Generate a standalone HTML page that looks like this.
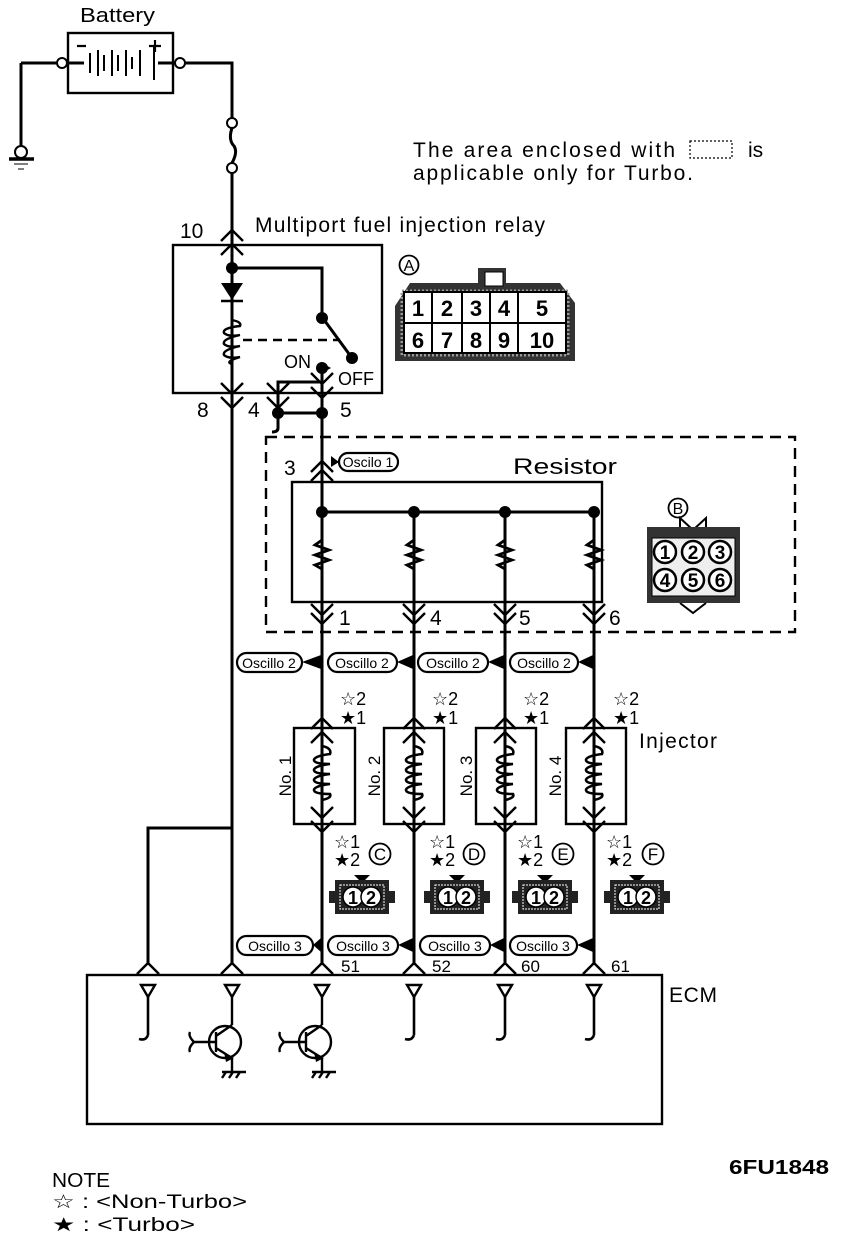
<!DOCTYPE html>
<html><head><meta charset="utf-8"><style>
html,body{margin:0;padding:0;background:#fff;}
svg{display:block;}
text{font-family:"Liberation Sans",sans-serif;fill:#000;}
</style></head><body>
<svg width="848" height="1240" viewBox="0 0 848 1240" xmlns="http://www.w3.org/2000/svg">
<defs>
<path id="up" d="M-11,11 L0,0 L11,11" fill="none" stroke="#000" stroke-width="2.4"/>
<path id="dn" d="M-11,-11 L0,0 L11,-11" fill="none" stroke="#000" stroke-width="2.4"/>
<g id="pin"><path d="M-7,0 L7,0 L0,12 Z" fill="none" stroke="#000" stroke-width="2.4"/><path d="M0,12 L0,50 M0,50 Q-2,56 -9,54" fill="none" stroke="#000" stroke-width="2.6"/></g>
<g id="res"><path d="M0,0 L0,28 L-7,33 L7,38 L-7,43 L7,48 L-7,53 L0,57 L0,90" fill="none" stroke="#000" stroke-width="2.8"/></g>
<g id="coil"><path d="M0,0 L0,20 Q10,22 8,28 Q-8,30 -8,34 Q-8,38 8,38 Q-8,40 -8,44 Q-8,48 8,48 Q-8,50 -8,54 Q-8,58 8,58 Q-8,60 -8,64 Q-8,68 8,68 Q10,72 0,74 L0,100" fill="none" stroke="#000" stroke-width="2.6"/></g>
<g id="c2">
<path d="M-8,-10 L8,-10 L0,-2 Z" fill="#000"/>
<rect x="-27" y="-5" width="54" height="34" fill="#222"/>
<rect x="-33" y="6" width="8" height="12" fill="#222"/><rect x="25" y="6" width="8" height="12" fill="#222"/>
<rect x="-22" y="0" width="44" height="24" fill="none" stroke="#fff" stroke-width="1" stroke-dasharray="2,1"/>
<circle cx="-9" cy="12" r="10" fill="#fff" stroke="#000" stroke-width="1.5"/><circle cx="9" cy="12" r="10" fill="#fff" stroke="#000" stroke-width="1.5"/>
<text x="-9" y="19" font-size="18" text-anchor="middle" font-weight="bold">1</text><text x="9" y="19" font-size="18" text-anchor="middle" font-weight="bold">2</text>
</g>
</defs>
<g fill="none" stroke="#000" stroke-width="3">
<rect x="68" y="33" width="105" height="60" stroke-width="2.4"/>
<path d="M67,63 L84,63 M158,63 L175,63 M21,63 L57,63 M21,63 L21,146 M185,63 L232,63 L232,118 M232,128 Q228,140 234,146 Q238,152 232,163 M232,173 L232,965"/>
<circle cx="62" cy="63" r="5" stroke-width="2"/><circle cx="180" cy="63" r="5" stroke-width="2"/>
<circle cx="232" cy="123" r="5" stroke-width="2"/><circle cx="232" cy="168" r="5" stroke-width="2"/>
<circle cx="21" cy="152" r="6" stroke-width="2"/>
<path d="M9,159 L34,159" stroke-width="3.5"/><path d="M14,164 L28,164 M18,169 L24,169" stroke-width="1"/>
<path d="M90,53 L90,73 M98,50 L98,76 M104,55 L104,71 M112,50 L112,76 M118,55 L118,71 M126,50 L126,76 M132,57 L132,69 M140,50 L140,76 M154,46 L154,80" stroke-width="2"/>
<path d="M77,46 L86,46 M149,46 L161,46 M155,40 L155,52" stroke-width="2.2"/>
<rect x="173" y="245" width="209" height="148" stroke-width="2.4"/>
<path d="M232,268 L322,268 L322,317 L352,358"/>
<path d="M243,340 L340,340" stroke-dasharray="9,6" stroke-width="2.4"/>
<path d="M322,368 L322,430 M322,382 L278,382 L278,428 M278,413 L322,413 M278,428 Q278,432 272,432"/>
<path d="M322,430 L322,965 M414,512 L414,965 M505,512 L505,965 M594,512 L594,965 M322,512 L594,512"/>
<path d="M148,965 L148,828 L232,828"/>
<rect x="266" y="437" width="529" height="195" stroke-dasharray="11,7" stroke-width="2.4"/>
<rect x="292" y="482" width="310" height="120" stroke-width="2.4"/>
<rect x="294" y="728" width="61" height="96" stroke-width="2.4"/>
<rect x="384" y="728" width="60" height="96" stroke-width="2.4"/>
<rect x="476" y="728" width="60" height="96" stroke-width="2.4"/>
<rect x="566" y="728" width="60" height="96" stroke-width="2.4"/>
<rect x="87" y="975" width="575" height="149" stroke-width="2.4"/>
</g>
<path d="M221,283 L243,283 L232,300 Z" fill="#000"/><path d="M221,301 L243,301" stroke="#000" stroke-width="2.5"/>
<g transform="translate(232,302)"><path d="M0,0 L0,18 Q10,20 8,24 Q-10,26 -8,31 Q-4,35 8,33 Q-10,37 -8,42 Q-4,46 8,44 Q-10,48 -8,53 Q-4,57 8,55 Q-8,60 0,62 L0,91" fill="none" stroke="#000" stroke-width="2.4"/></g>
<g fill="#000">
<circle cx="232" cy="268" r="6"/><circle cx="322" cy="318" r="6"/><circle cx="352" cy="358" r="6"/><circle cx="322" cy="368" r="6"/>
<path d="M322,363 L331,368 L322,373 Z"/>
<circle cx="278" cy="413" r="6"/><circle cx="322" cy="413" r="6"/>
<circle cx="322" cy="512" r="6"/><circle cx="414" cy="512" r="6"/><circle cx="505" cy="512" r="6"/><circle cx="594" cy="512" r="6"/>
</g>
<use href="#up" x="232" y="230"/><use href="#up" x="232" y="244"/>
<use href="#dn" x="232" y="394"/><use href="#dn" x="232" y="408"/>
<use href="#dn" x="278" y="394"/><use href="#dn" x="278" y="408"/>
<use href="#dn" x="322" y="384"/><use href="#dn" x="322" y="398"/>
<use href="#up" x="322" y="461"/><use href="#up" x="322" y="470"/>
<use href="#dn" x="322" y="615"/><use href="#dn" x="322" y="624"/>
<use href="#dn" x="414" y="615"/><use href="#dn" x="414" y="624"/>
<use href="#dn" x="505" y="615"/><use href="#dn" x="505" y="624"/>
<use href="#dn" x="594" y="615"/><use href="#dn" x="594" y="624"/>
<use href="#up" x="322" y="718"/><use href="#up" x="322" y="732"/>
<use href="#up" x="414" y="718"/><use href="#up" x="414" y="732"/>
<use href="#up" x="505" y="718"/><use href="#up" x="505" y="732"/>
<use href="#up" x="594" y="718"/><use href="#up" x="594" y="732"/>
<use href="#dn" x="322" y="818"/><use href="#dn" x="322" y="832"/>
<use href="#dn" x="414" y="818"/><use href="#dn" x="414" y="832"/>
<use href="#dn" x="505" y="818"/><use href="#dn" x="505" y="832"/>
<use href="#dn" x="594" y="818"/><use href="#dn" x="594" y="832"/>
<use href="#up" x="148" y="963"/><use href="#up" x="232" y="963"/><use href="#up" x="322" y="963"/>
<use href="#up" x="414" y="963"/><use href="#up" x="505" y="963"/><use href="#up" x="594" y="963"/>
<use href="#res" x="322" y="512"/><use href="#res" x="414" y="512"/><use href="#res" x="505" y="512"/><use href="#res" x="594" y="512"/>
<use href="#coil" x="322" y="726"/><use href="#coil" x="414" y="726"/><use href="#coil" x="505" y="726"/><use href="#coil" x="594" y="726"/>
<use href="#pin" x="148" y="985"/><use href="#pin" x="414" y="985"/><use href="#pin" x="505" y="985"/><use href="#pin" x="594" y="985"/>
<g fill="none" stroke="#000" stroke-width="2.4">
<path d="M225,985 L239,985 L232,997 Z M232,997 L232,1025 M232,1058 L232,1072 M222,1072 L246,1072 M226,1072 L222,1078 M233,1072 L229,1078 M240,1072 L236,1078"/>
<circle cx="225" cy="1042" r="16"/>
<path d="M194,1042 L216,1042 M216,1032 L216,1052 M216,1036 L232,1025 M216,1048 L232,1058 M194,1042 Q188,1036 190,1032 M194,1042 Q188,1048 190,1052"/>
<path d="M315,985 L329,985 L322,997 Z M322,997 L322,1025 M322,1058 L322,1072 M312,1072 L336,1072 M316,1072 L312,1078 M323,1072 L319,1078 M330,1072 L326,1078"/>
<circle cx="315" cy="1042" r="16"/>
<path d="M284,1042 L306,1042 M306,1032 L306,1052 M306,1036 L322,1025 M306,1048 L322,1058 M284,1042 Q278,1036 280,1032 M284,1042 Q278,1048 280,1052"/>
</g>
<path d="M224,1052 L234,1058 L226,1062 Z M314,1052 L324,1058 L316,1062 Z" fill="#000"/>
<g>
<path d="M395,306 L410,283 L478,283 L478,268 L506,268 L506,283 L560,283 L575,303 L575,361 L395,361 Z" fill="#333"/>
<rect x="485" y="272" width="18" height="14" fill="#fff" stroke="#000"/>
<rect x="402" y="291" width="166" height="64" fill="none" stroke="#999" stroke-width="3" stroke-dasharray="2,2"/>
<rect x="404" y="292" width="162" height="61" fill="#fff" stroke="#000" stroke-width="2"/>
<path d="M404,323 L566,323 M432,292 L432,353 M462,292 L462,353 M490,292 L490,353 M518,292 L518,353" stroke="#000" stroke-width="2"/>
<g font-size="22" font-weight="bold" text-anchor="middle">
<text x="418" y="316">1</text><text x="447" y="316">2</text><text x="476" y="316">3</text><text x="504" y="316">4</text><text x="542" y="316">5</text>
<text x="418" y="348">6</text><text x="447" y="348">7</text><text x="476" y="348">8</text><text x="504" y="348">9</text><text x="542" y="348">10</text>
</g>
<circle cx="409" cy="265" r="9.5" fill="none" stroke="#000" stroke-width="1.8"/><text x="409" y="271" font-size="16" text-anchor="middle">A</text>
</g>
<g>
<path d="M680,518 L693,530 L706,518 L706,528 L680,528 Z" fill="none" stroke="#000" stroke-width="2"/>
<path d="M680,603 L693,613 L706,603" fill="none" stroke="#000" stroke-width="2"/>
<rect x="647" y="527" width="93" height="76" fill="#333"/>
<rect x="652" y="538" width="83" height="58" fill="#eee" stroke="#000" stroke-width="1"/>
<g fill="#fff" stroke="#000" stroke-width="2.5">
<circle cx="665" cy="552" r="11"/><circle cx="693" cy="552" r="11"/><circle cx="720" cy="552" r="11"/>
<circle cx="665" cy="580" r="11"/><circle cx="693" cy="580" r="11"/><circle cx="720" cy="580" r="11"/>
</g>
<g font-size="19" font-weight="bold" text-anchor="middle">
<text x="665" y="559">1</text><text x="693" y="559">2</text><text x="720" y="559">3</text>
<text x="665" y="587">4</text><text x="693" y="587">5</text><text x="720" y="587">6</text>
</g>
<circle cx="678" cy="508" r="9.5" fill="none" stroke="#000" stroke-width="1.8"/><text x="678" y="514" font-size="16" text-anchor="middle">B</text>
</g>
<use href="#c2" x="362" y="885"/><use href="#c2" x="457" y="885"/><use href="#c2" x="545" y="885"/><use href="#c2" x="637" y="885"/>
<g fill="none" stroke="#000" stroke-width="1.8">
<circle cx="380" cy="854" r="10.5"/><circle cx="474" cy="854" r="10.5"/><circle cx="563" cy="854" r="10.5"/><circle cx="653" cy="854" r="10.5"/>
</g>
<g font-size="17" text-anchor="middle"><text x="380" y="860">C</text><text x="474" y="860">D</text><text x="563" y="860">E</text><text x="653" y="860">F</text></g>
<g fill="#fff" stroke="#000" stroke-width="2.2">
<rect x="339" y="453" width="59" height="18" rx="9"/>
<rect x="237" y="653" width="65" height="19" rx="9.5"/><rect x="328" y="653" width="69" height="19" rx="9.5"/><rect x="418" y="653" width="70" height="19" rx="9.5"/><rect x="510" y="653" width="68" height="19" rx="9.5"/>
<rect x="237" y="936" width="76" height="19" rx="9.5"/><rect x="328" y="936" width="70" height="19" rx="9.5"/><rect x="420" y="936" width="70" height="19" rx="9.5"/><rect x="510" y="936" width="67" height="19" rx="9.5"/>
</g>
<g fill="#000">
<path d="M331,456 L339,462 L331,467 Z"/>
<path d="M302,662 L321,655 L321,669 Z M397,662 L413,655 L413,669 Z M488,662 L504,655 L504,669 Z M578,662 L593,655 L593,669 Z"/>
<path d="M313,945 L321,938 L321,952 Z M398,945 L413,938 L413,952 Z M490,945 L504,938 L504,952 Z M577,945 L593,938 L593,952 Z"/>
</g>
<g font-size="14" text-anchor="middle">
<text x="368" y="467">Oscilo 1</text>
<text x="269" y="668">Oscillo 2</text><text x="362" y="668">Oscillo 2</text><text x="453" y="668">Oscillo 2</text><text x="544" y="668">Oscillo 2</text>
<text x="275" y="951">Oscillo 3</text><text x="363" y="951">Oscillo 3</text><text x="455" y="951">Oscillo 3</text><text x="543" y="951">Oscillo 3</text>
</g>
<text x="80" y="22" font-size="20" textLength="75" lengthAdjust="spacingAndGlyphs">Battery</text>
<text x="413" y="157" font-size="21" textLength="262" lengthAdjust="spacing">The area enclosed with</text>
<rect x="690" y="141" width="42" height="17" fill="none" stroke="#000" stroke-width="1.2" stroke-dasharray="2,2"/>
<text x="748" y="157" font-size="21">is</text>
<text x="413" y="180" font-size="21" textLength="280" lengthAdjust="spacing">applicable only for Turbo.</text>
<text x="180" y="238" font-size="21">10</text>
<text x="255" y="232" font-size="21" textLength="290" lengthAdjust="spacing">Multiport fuel injection relay</text>
<text x="284" y="368" font-size="18">ON</text><text x="338" y="385" font-size="18">OFF</text>
<text x="197" y="417" font-size="21">8</text><text x="248" y="417" font-size="21">4</text><text x="340" y="417" font-size="21">5</text>
<text x="284" y="475" font-size="21">3</text>
<text x="513" y="474" font-size="22" textLength="104" lengthAdjust="spacingAndGlyphs">Resistor</text>
<text x="339" y="625" font-size="21">1</text><text x="430" y="625" font-size="21">4</text><text x="519" y="625" font-size="21">5</text><text x="609" y="625" font-size="21">6</text>
<g font-size="18">
<text x="340" y="705">☆2</text><text x="340" y="724">★1</text>
<text x="432" y="705">☆2</text><text x="432" y="724">★1</text>
<text x="523" y="705">☆2</text><text x="523" y="724">★1</text>
<text x="613" y="705">☆2</text><text x="613" y="724">★1</text>
<text x="334" y="848">☆1</text><text x="334" y="866">★2</text>
<text x="429" y="848">☆1</text><text x="429" y="866">★2</text>
<text x="517" y="848">☆1</text><text x="517" y="866">★2</text>
<text x="606" y="848">☆1</text><text x="606" y="866">★2</text>
</g>
<text x="639" y="748" font-size="21" textLength="78" lengthAdjust="spacing">Injector</text>
<g font-size="17">
<text transform="translate(291,776) rotate(-90)" text-anchor="middle">No. 1</text>
<text transform="translate(380,776) rotate(-90)" text-anchor="middle">No. 2</text>
<text transform="translate(472,776) rotate(-90)" text-anchor="middle">No. 3</text>
<text transform="translate(561,776) rotate(-90)" text-anchor="middle">No. 4</text>
</g>
<g font-size="17"><text x="341" y="972">51</text><text x="432" y="972">52</text><text x="521" y="972">60</text><text x="611" y="972">61</text></g>
<text x="669" y="1002" font-size="21" textLength="48" lengthAdjust="spacing">ECM</text>
<text x="729" y="1174" font-size="20" font-weight="bold" textLength="100" lengthAdjust="spacingAndGlyphs">6FU1848</text>
<text x="52" y="1187" font-size="20" textLength="58" lengthAdjust="spacingAndGlyphs">NOTE</text>
<text x="52" y="1208" font-size="19" textLength="195" lengthAdjust="spacingAndGlyphs">☆ :  &lt;Non-Turbo&gt;</text>
<text x="52" y="1231" font-size="19" textLength="143" lengthAdjust="spacingAndGlyphs">★ :  &lt;Turbo&gt;</text>
</svg>
</body></html>
